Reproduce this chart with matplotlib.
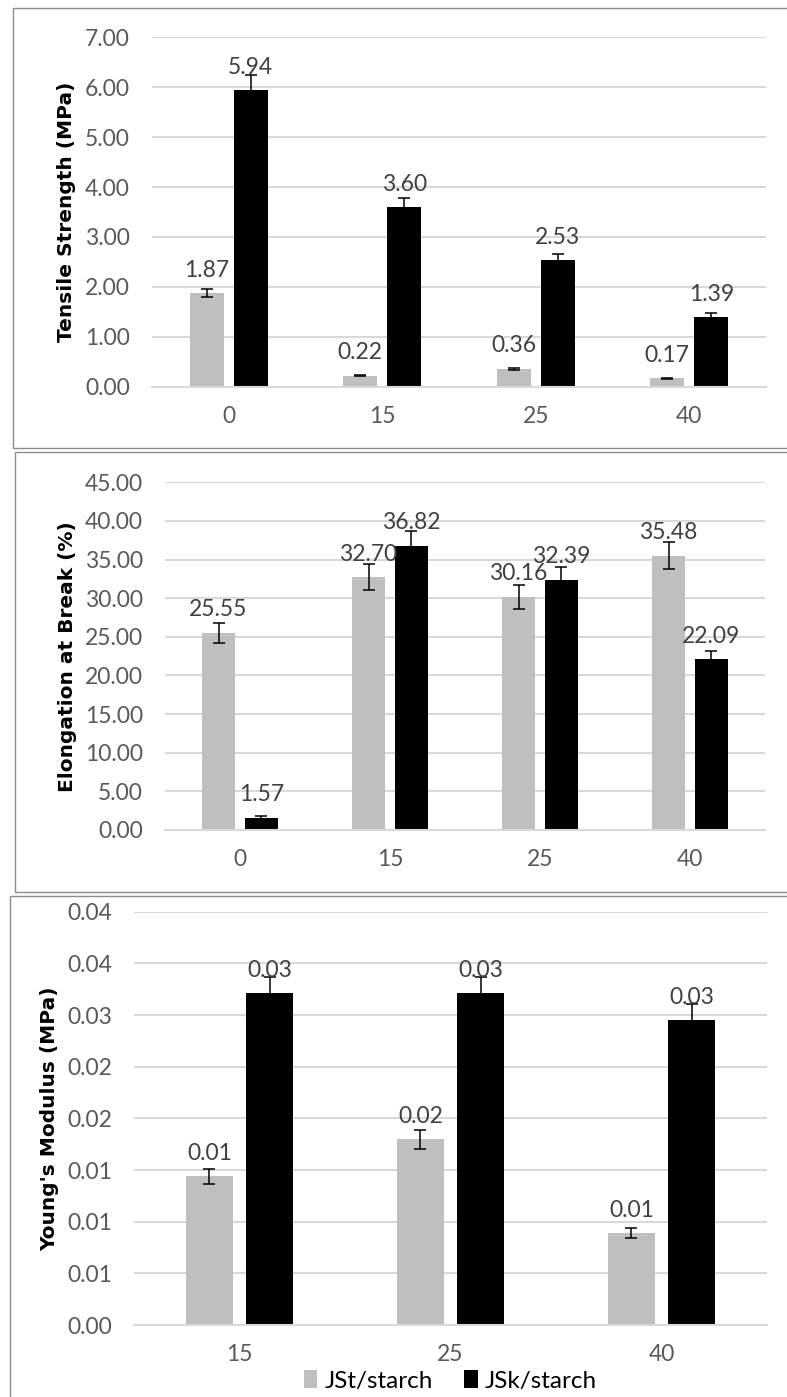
import matplotlib
matplotlib.use("Agg")
import matplotlib.pyplot as plt
from matplotlib.patches import Rectangle
from matplotlib.ticker import FormatStrFormatter, MultipleLocator
import numpy as np

# fibre loading (%) for each sample group
loading = ["0", "15", "25", "40"]
loading_modulus = ["15", "25", "40"]

# tensile strength (MPa)
tensile_jst = [1.87, 0.22, 0.36, 0.17]
tensile_jst_err = [0.08, 0.01, 0.02, 0.01]
tensile_jsk = [5.94, 3.60, 2.53, 1.39]
tensile_jsk_err = [0.30, 0.18, 0.13, 0.08]

# elongation at break (%)
elong_jst = [25.55, 32.70, 30.16, 35.48]
elong_jst_err = [1.29, 1.67, 1.50, 1.76]
elong_jsk = [1.57, 36.82, 32.39, 22.09]
elong_jsk_err = [0.25, 1.85, 1.63, 1.09]

# young's modulus (MPa)
modulus_jst = [0.0144, 0.0180, 0.0089]
modulus_jst_err = [0.00074, 0.00092, 0.00047]
modulus_jsk = [0.0321, 0.0321, 0.0295]
modulus_jsk_err = [0.00162, 0.00162, 0.00152]

series_names = ["JSt/starch", "JSk/starch"]

GREY = "#bfbfbf"
BLACK = "#000000"
GRID = "#d9d9d9"
TICK_FONT = "Lato"

W, H = 787, 1397
fig = plt.figure(figsize=(W / 100, H / 100), dpi=100)


def px_axes(left, top, right, bottom):
    return fig.add_axes([left / W, 1 - bottom / H, (right - left) / W, (bottom - top) / H])


def panel_box(left, top, right, bottom):
    fig.patches.append(Rectangle((left / W, 1 - bottom / H), (right - left) / W,
                                 (bottom - top) / H, transform=fig.transFigure,
                                 fill=False, edgecolor="#8c8c8c", linewidth=1.0))


def bar_panel(ax, cats, a, a_err, b, b_err, ymax, step, ylabel, label_x):
    x = np.arange(len(cats))
    w, off = 0.223, 0.143
    ba = ax.bar(x - off, a, w, color=GREY, zorder=2)
    bb = ax.bar(x + off, b, w, color=BLACK, zorder=2)
    ax.errorbar(x - off, a, yerr=a_err, fmt="none", ecolor="black",
                elinewidth=1.1, capsize=4, capthick=1.1, zorder=3)
    ax.errorbar(x + off, b, yerr=b_err, fmt="none", ecolor="black",
                elinewidth=1.1, capsize=4, capthick=1.1, zorder=3)
    for bars in (ba, bb):
        ax.bar_label(bars, fmt="%.2f", padding=9, fontsize=16.5,
                     color="#404040", family=TICK_FONT, zorder=4)
    ax.set_xlim(-0.5, len(cats) - 0.5)
    ax.set_ylim(0, ymax)
    ax.yaxis.set_major_locator(MultipleLocator(step))
    ax.yaxis.set_major_formatter(FormatStrFormatter("%.2f"))
    ax.set_xticks(x)
    ax.set_xticklabels(cats)
    ax.grid(axis="y", color=GRID, linewidth=1.5)
    ax.set_axisbelow(True)
    for s in ("top", "left", "right"):
        ax.spines[s].set_visible(False)
    ax.spines["bottom"].set_color(GRID)
    ax.spines["bottom"].set_linewidth(1.5)
    ax.tick_params(axis="both", length=0, labelsize=16.5, labelcolor="#595959")
    ax.tick_params(axis="y", pad=16)
    ax.tick_params(axis="x", pad=14)
    for t in ax.get_xticklabels() + ax.get_yticklabels():
        t.set_family(TICK_FONT)
    ax.set_ylabel(ylabel, fontsize=14.5, fontweight="bold", family="DejaVu Sans",
                  color="black")
    ax.yaxis.set_label_coords(label_x, 0.5)
    ax.patch.set_alpha(0)
    return ba, bb


panel_box(13, 8, 800, 448)
panel_box(15, 452, 800, 892)
panel_box(10, 896, 800, 1410)

ax1 = px_axes(152, 37.3, 766, 386.7)
bar_panel(ax1, loading, tensile_jst, tensile_jst_err, tensile_jsk, tensile_jsk_err,
          7, 1, "Tensile Strength (MPa)", -0.124)

ax2 = px_axes(165, 482.3, 765, 830)
bar_panel(ax2, loading, elong_jst, elong_jst_err, elong_jsk, elong_jsk_err,
          45, 5, "Elongation at Break (%)", -0.147)

ax3 = px_axes(134, 911.7, 767, 1325)
h1, h2 = bar_panel(ax3, loading_modulus, modulus_jst, modulus_jst_err,
                   modulus_jsk, modulus_jsk_err, 0.04, 0.005,
                   "Young's Modulus (MPa)", -0.118)

fig.legend([h1, h2], series_names, loc="center", bbox_to_anchor=(450.5 / W, 1 - 1381 / H),
           ncol=2, frameon=False, prop={"family": TICK_FONT, "size": 17.5},
           handlelength=0.55, handleheight=0.7, handletextpad=0.3,
           columnspacing=1.3, labelcolor="black")

fig.savefig("out.png", dpi=100)
